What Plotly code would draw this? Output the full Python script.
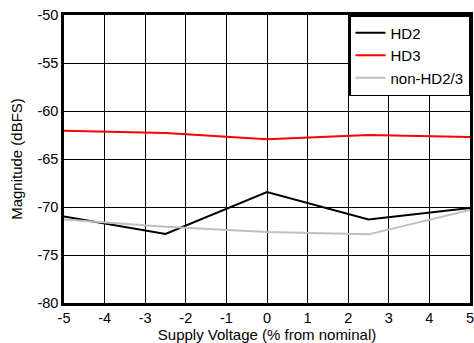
import plotly.graph_objects as go

supply_pct = [-5, -2.5, 0, 2.5, 5]
hd2 = [-71.0, -72.8, -68.45, -71.3, -70.1]
hd3 = [-62.05, -62.3, -62.95, -62.5, -62.7]
non_hd23 = [-71.3, -72.05, -72.6, -72.85, -70.3]

x_ticks = list(range(-5, 6))
y_ticks = list(range(-80, -49, 5))

fig = go.Figure()
fig.add_trace(go.Scatter(x=supply_pct, y=hd2, mode="lines", name="HD2",
                         line=dict(color="#000000", width=2)))
fig.add_trace(go.Scatter(x=supply_pct, y=hd3, mode="lines", name="HD3",
                         line=dict(color="#FF0000", width=2)))
fig.add_trace(go.Scatter(x=supply_pct, y=non_hd23, mode="lines", name="non-HD2/3",
                         line=dict(color="#BFBFBF", width=2)))

fam = "Liberation Sans, Arial, sans-serif"

fig.update_layout(
    width=474, height=343,
    margin=dict(l=64, r=4, t=15, b=40),
    paper_bgcolor="white", plot_bgcolor="white",
    font=dict(family=fam, size=14.5, color="#000000"),
    showlegend=True,
    hovermode=False,
    legend=dict(x=1, y=1, xanchor="right", yanchor="top",
                bgcolor="white", bordercolor="black", borderwidth=1.5,
                font=dict(family=fam, size=15, color="#000000"),
                tracegroupgap=0, itemwidth=30),
)
fig.update_xaxes(range=[-5, 5], tickvals=x_ticks, ticktext=[str(v) for v in x_ticks],
                 showgrid=True, gridcolor="black", gridwidth=1,
                 showline=True, linecolor="black", linewidth=2.5, mirror=True,
                 ticks="", zeroline=False, automargin=False,
                 ticklabeloverflow="allow",
                 tickfont=dict(family=fam, size=14.5),
                 title=dict(text="Supply Voltage (% from nominal)", standoff=0,
                            font=dict(family=fam, size=15)))
fig.update_yaxes(range=[-80, -50], tickvals=y_ticks, ticktext=[str(v) for v in y_ticks],
                 showgrid=True, gridcolor="black", gridwidth=1,
                 showline=True, linecolor="black", linewidth=2.5, mirror=True,
                 ticks="", zeroline=False, automargin=False,
                 ticklabeloverflow="allow",
                 tickfont=dict(family=fam, size=14.5),
                 title=dict(text="Magnitude (dBFS)", standoff=12,
                            font=dict(family=fam, size=15)))

fig.write_html(
    "out.html",
    config={"displayModeBar": False},
    post_script="document.body.style.margin='0px';document.body.style.overflow='hidden';",
)
